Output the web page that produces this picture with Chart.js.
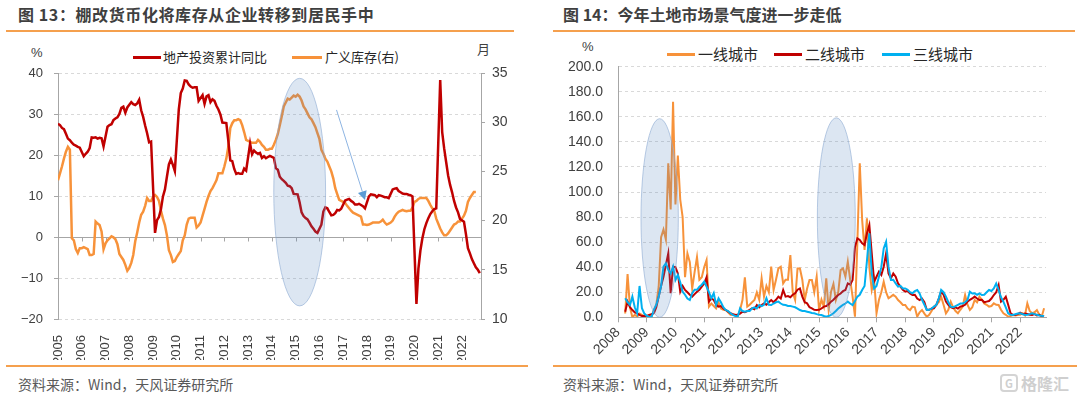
<!DOCTYPE html>
<html><head><meta charset="utf-8">
<script src="https://cdn.jsdelivr.net/npm/chart.js@4.4.1/dist/chart.umd.min.js"></script>
<style>
body{margin:0;background:#fff;}
#wrap{position:relative;width:1080px;height:396px;overflow:hidden;background:#fff;}
.t{position:absolute;white-space:nowrap;font-family:"Noto Sans CJK SC","Liberation Sans",sans-serif;}
.title{font-weight:bold;font-size:16px;line-height:18px;color:#3f3f3f;}
.rule{position:absolute;height:2px;background:#F5A04E;}
.src{font-size:14px;line-height:16px;color:#595959;}
.leg{font-size:13px;line-height:14px;color:#262626;}
.leg2{font-size:15px;line-height:16px;color:#262626;}
.sw{position:absolute;height:3px;}
.unit{font-family:"Liberation Sans","Noto Sans CJK SC",sans-serif;font-size:13px;line-height:14px;color:#404040;}
canvas{position:absolute;}
</style></head>
<body>
<div id="wrap">
  <div class="t title" style="left:18px;top:5px;letter-spacing:0.6px;">图 13：棚改货币化将库存从企业转移到居民手中</div>
  <div class="rule" style="left:6px;top:30px;width:508px;"></div>
  <div class="t title" style="left:563px;top:5px;">图 14：今年土地市场景气度进一步走低</div>
  <div class="rule" style="left:553px;top:30px;width:522px;"></div>

  <div class="t unit" style="left:31px;top:46px;">%</div>
  <div class="t unit" style="left:477px;top:43px;">月</div>
  <div class="sw" style="left:133px;top:56px;width:28px;background:#C00000;"></div>
  <div class="t leg" style="left:163px;top:50px;">地产投资累计同比</div>
  <div class="sw" style="left:292px;top:56px;width:30px;background:#F7923A;"></div>
  <div class="t leg" style="left:325px;top:50px;">广义库存(右)</div>

  <div class="t unit" style="left:582px;top:40px;">%</div>
  <div class="sw" style="left:667px;top:53px;width:28px;background:#F7923A;"></div>
  <div class="t leg2" style="left:698px;top:46px;">一线城市</div>
  <div class="sw" style="left:774px;top:53px;width:28px;background:#C00000;"></div>
  <div class="t leg2" style="left:805px;top:46px;">二线城市</div>
  <div class="sw" style="left:882px;top:53px;width:28px;background:#00B0F0;"></div>
  <div class="t leg2" style="left:913px;top:46px;">三线城市</div>

  <canvas id="c1" width="530" height="320" style="left:0px;top:40px;"></canvas>
  <canvas id="c2" width="530" height="320" style="left:540px;top:40px;"></canvas>

  <div class="rule" style="left:6px;top:365px;width:522px;"></div>
  <div class="rule" style="left:553px;top:365px;width:524px;"></div>
  <div class="t src" style="left:18px;top:376px;">资料来源：Wind，天风证券研究所</div>
  <div class="t src" style="left:563px;top:376px;">资料来源：Wind，天风证券研究所</div>
  <div class="t" style="left:1000px;top:374px;font-size:16px;line-height:18px;color:#cfcfcf;font-weight:bold;"><span style="display:inline-block;border:2px solid #d4d4d4;border-radius:4px;width:14px;height:14px;line-height:14px;text-align:center;font-size:11px;margin-right:3px;vertical-align:top;">G</span>格隆汇</div>
</div>
<script>
// ---------- Figure 13 data ----------
const leftYears = [2005,2006,2007,2008,2009,2010,2011,2012,2013,2014,2015,2016,2017,2018,2019,2020,2021,2022];
const investStart = [2005, 1];   // monthly, 地产投资累计同比 (%)
const invest = [
  27.6,27.3,26.6,26.3,25.2,24.0,23.6,23.0,22.5,22.3,22.0,21.8,
  null,19.7,20.3,20.8,21.7,24.3,24.2,24.3,24.0,24.2,24.1,22.1,
  null,26.9,27.3,27.5,28.5,28.9,29.2,30.0,31.5,31.8,30.3,31.6,
  null,32.9,32.4,32.2,32.6,33.5,30.9,29.3,27.2,25.3,23.1,23.3,
  null,1.0,4.1,4.9,6.8,9.9,11.6,14.7,17.7,18.9,17.6,16.1,
  null,31.1,35.1,36.2,38.2,38.1,37.2,36.7,36.4,36.5,36.5,33.2,
  null,34.6,32.5,34.3,34.6,32.9,33.6,33.2,32.0,31.1,29.9,27.9,
  null,27.8,23.5,18.7,18.5,16.6,15.4,15.6,15.4,15.4,16.7,16.2,
  null,22.8,20.2,21.1,20.6,20.3,20.5,19.3,19.7,19.2,19.5,19.8,
  null,19.3,16.8,16.4,14.7,14.1,13.7,13.2,12.5,12.4,11.9,10.5,
  null,10.4,8.5,6.0,5.1,4.6,4.3,3.5,2.6,2.0,1.3,1.0,
  null,3.0,6.2,7.2,7.0,6.1,5.3,5.4,5.8,6.6,6.5,6.9,
  null,8.9,9.1,9.3,8.8,8.5,7.9,7.9,8.1,7.8,7.5,7.0,
  null,9.9,10.4,10.3,10.2,9.7,10.2,10.1,9.9,9.7,9.7,9.5,
  null,11.6,11.8,11.9,11.2,10.9,10.6,10.5,10.5,10.3,10.2,9.9,
  null,-16.3,-7.7,-3.3,-0.3,1.9,3.4,4.6,5.6,6.3,6.8,7.0,
  null,38.3,25.6,21.6,18.3,15.0,12.7,10.9,8.8,7.2,6.0,4.4,
  null,3.7,0.7,-2.7,-4.0,-5.4,-6.4,-7.4,-8.0,-8.8
];
const stockStart = [2005, 1];    // monthly, 广义库存 (月, right axis)
const stock = [
  24.1,24.8,25.5,26.3,27.0,27.5,27.2,18.2,18.0,17.1,16.7,17.2,
  17.2,17.3,17.2,17.1,16.5,16.5,16.6,19.9,19.7,19.55,18.9,17.1,
  17.7,18.0,18.2,18.4,18.3,18.1,17.6,16.6,16.3,16.0,15.5,14.9,
  15.2,15.7,16.5,17.9,18.8,19.8,20.6,20.9,21.5,22.3,22.0,22.0,
  22.4,22.6,22.4,22.0,21.0,20.2,19.55,18.5,17.0,16.5,15.8,15.9,
  16.3,16.6,16.9,18.0,18.5,19.6,20.2,20.3,20.3,20.3,19.3,19.5,
  19.8,20.5,21.2,21.9,22.5,23.0,23.3,23.7,24.1,24.8,24.8,24.8,
  25.5,26.3,27.5,29.4,29.9,30.2,30.2,30.3,30.2,29.7,29.0,28.2,
  28.1,28.0,27.9,27.9,27.9,28.2,28.0,27.7,27.5,27.2,27.2,27.3,
  27.3,27.7,28.2,28.8,29.7,30.6,31.6,32.0,32.4,32.3,32.5,32.7,
  32.6,32.8,32.6,32.2,31.6,31.3,30.9,30.5,30.3,29.9,29.5,28.9,
  28.3,27.2,26.8,26.3,26.0,25.5,25.0,24.3,23.3,22.7,22.1,22.0,
  21.9,21.8,21.5,21.25,21.0,20.8,20.7,20.6,20.5,20.4,19.6,19.6,
  19.55,19.6,19.7,19.8,19.8,19.8,19.8,19.9,20.1,19.8,19.6,19.7,
  19.8,20.0,20.4,20.7,20.9,21.0,21.1,21.0,20.95,21.0,21.0,21.3,
  21.9,22.0,22.2,22.3,22.3,22.3,22.3,22.0,21.6,21.25,21.0,20.2,
  19.7,19.2,18.8,18.5,18.5,18.7,19.0,19.3,19.6,19.7,19.9,19.9,
  20.2,20.5,21.0,21.9,22.3,22.6,22.9,22.9
];
// highlight shapes (data coordinates): [xMin, xMax, yMin, yMax]
const leftEllipses = [[2014.08, 2016.26, -16.8, 38.7]];
// arrow (data coordinates): [x1, y1, x2, y2]
const leftArrows = [[2016.72, 31.0, 2017.92, 9.0]];

// ---------- Figure 14 data ----------
const rightYears = [2008,2009,2010,2011,2012,2013,2014,2015,2016,2017,2018,2019,2020,2021,2022];
const landStart = [2008, 4];     // monthly, 土地溢价率 (%)
const tier1 = [
  3,34.5,8,0,2,0.5,3,2,1,
  1,0.5,1,5.8,10,24.4,64,70,62,123,86,172,
  90,129,94,80,32,51,44,23,36,48,30,32,
  40,45.7,8.5,11,9,7,12,7,6,5.8,4,2,
  1.8,2,1,5.8,13.8,31.9,8.5,10,12,13.8,20,14,
  31.1,16.5,25,20,40.4,21.8,30,39,40.4,27,30,30,
  49.7,20,13.8,39,39,30,13.8,23,29.8,29.8,20,32.4,
  5.8,14.1,8.5,31.1,5.8,20.4,26.6,13.8,20,37.7,39,32.4,
  44.4,29.8,16.5,0.5,60,123,77.6,53.7,79,40,21.8,29.8,
  3.2,13.8,20,28.4,20,15.2,16.5,18,16.5,13.8,12,9.8,
  9.8,7,5.8,8.5,8,0.5,4,5.8,3,0.5,2,5,
  8.5,10,12,16.5,10,3.2,6,12.5,8,5,3.2,6,
  8.5,17.8,10,5.8,8,13.8,12,16.5,14,11.1,10,8.5,
  9,11.1,10,9.8,6,3.2,2,0.5,1,1.8,1.5,1.8,
  2,3.2,1.5,11.1,5,3.2,4,5.8,2,0.5,7.2
];
const tier2 = [
  4.5,12.5,8,5.8,4,3.2,2,1,1,
  1,1.8,2.5,3.2,8,16.5,25,32.4,41.7,51,19.2,40.4,
  40,35,20.4,25,21.8,20,18,16.5,18.5,20.4,22,24.5,
  27,31.9,12.5,15,13.8,10,8.5,9,7,5.8,4.5,3.2,
  2.5,1.8,2,3,4.5,4,5,6,7.2,6.5,9.8,8,
  9.8,11.1,10,12,13.8,12,14,16.5,15,21.8,16.5,17,
  16,18,19.2,22,23,16.5,12,11.1,8,7.2,6,5.8,
  6,7,8.5,9,10.5,12.5,14,16,17.8,19,21,21.8,
  27,26,29.8,56,63,61.7,59,57.7,67,73.6,51,28.4,
  32.4,36.4,33.8,40.4,51,35,31.1,35,32.4,27,24.5,22,
  20.4,21,19,17.8,18,15,13.8,15,12,5.8,6,7,
  7.2,10,15,20.4,18,12.5,10,8,7.2,8,7,8.5,
  9,10,12.5,14,15,16.5,15,13.8,14,12,12.5,13,
  15,17.8,20,25.7,12.5,14,16.5,10,3.2,2,1.8,2.5,
  3.7,2.5,3,2.6,2,1.8,2.5,1.5,2,1,0.8
];
const tier3 = [
  15.2,12,9.8,16.5,8,3.2,25,7.2,3,
  1.2,0.5,0,6,10,16.5,25,40.4,43,38,35,40.4,
  29.8,33.8,28,20.4,18,15,13.8,19.2,22,22,24.5,26,
  28.4,24.5,20,15.2,19.2,9.8,15.2,12,8,5.8,5,3.2,
  2,1,0.5,7.2,5,4.5,5,5,7.2,8,7,9.8,
  9,10,15.2,10,9.8,11,12,12.5,11,10,9.8,9,
  9,8.5,8,7,5.8,5,5,4.5,4,3.5,3.2,2.5,
  2,1.8,1,0.5,1,2,3.2,5,7,8.5,10,11,
  12.5,11,9.8,13,16.5,18,21.8,25,45,67,35,23,
  25,32.3,40,55,60.3,40.4,29.8,30,27,24.5,25,23,
  23,22,20,19.2,21,21.8,19,14,10,5.8,6,7,
  8.5,10,15,21.8,20,16.5,12,8.5,8,9,10,11,
  11,12,13.8,20.4,19,19.2,18,19,17.8,18,20,21.8,
  21,23,27,22,16,12.5,8,3.2,2,1.8,2.5,3,
  3.2,2.5,1.8,2,2.5,3.2,2.5,2,1.5,1.2,1
];
const rightEllipses = [[2008.8, 2010.1, 0, 158.5], [2014.94, 2016.26, 0, 159.2]];

// ---------- helpers ----------
function toPoints(start, arr) {
  return arr.map((v, i) => ({ x: start[0] + (start[1] - 1 + i) / 12, y: v }));
}
const GRID = '#d9d9d9', AXIS = '#a6a6a6', TXT = '#404040';
const FONT = '"Liberation Sans","Noto Sans CJK SC",sans-serif';
Chart.defaults.font.family = FONT;
Chart.defaults.color = TXT;

const zeroAxis = {
  id: 'zeroAxis',
  beforeDatasetsDraw(chart, args, opts) {
    if (!opts.years) return;
    const { ctx, scales: { x, y } } = chart;
    const py = Math.round(y.getPixelForValue(0)) + 0.5;
    ctx.save();
    ctx.strokeStyle = AXIS; ctx.lineWidth = 1;
    ctx.beginPath();
    ctx.moveTo(x.left, py); ctx.lineTo(x.right, py);
    opts.years.forEach(v => {
      const px = Math.round(x.getPixelForValue(v)) + 0.5;
      ctx.moveTo(px, py); ctx.lineTo(px, py + 4);
    });
    ctx.stroke();
    ctx.restore();
  }
};
const shapes = {
  id: 'shapes',
  afterDatasetsDraw(chart, args, opts) {
    const { ctx, scales: { x, y } } = chart;
    ctx.save();
    (opts.ellipses || []).forEach(e => {
      const x1 = x.getPixelForValue(e[0]), x2 = x.getPixelForValue(e[1]);
      const y1 = y.getPixelForValue(e[3]), y2 = y.getPixelForValue(e[2]);
      ctx.beginPath();
      ctx.ellipse((x1 + x2) / 2, (y1 + y2) / 2, (x2 - x1) / 2, (y2 - y1) / 2, 0, 0, Math.PI * 2);
      ctx.fillStyle = 'rgba(79,129,189,0.2)';
      ctx.fill();
      ctx.strokeStyle = 'rgba(140,170,210,0.6)';
      ctx.lineWidth = 1;
      ctx.stroke();
    });
    (opts.arrows || []).forEach(a => {
      const px1 = x.getPixelForValue(a[0]), py1 = y.getPixelForValue(a[1]);
      const px2 = x.getPixelForValue(a[2]), py2 = y.getPixelForValue(a[3]);
      const ang = Math.atan2(py2 - py1, px2 - px1);
      const L = 9, W = 4.5;
      const bx = px2 - L * Math.cos(ang), by = py2 - L * Math.sin(ang);
      ctx.beginPath();
      ctx.moveTo(px1, py1); ctx.lineTo(bx, by);
      ctx.strokeStyle = '#8DB4E2'; ctx.lineWidth = 1; ctx.stroke();
      ctx.beginPath();
      ctx.moveTo(px2, py2);
      ctx.lineTo(bx + W * Math.sin(ang), by - W * Math.cos(ang));
      ctx.lineTo(bx - W * Math.sin(ang), by + W * Math.cos(ang));
      ctx.closePath();
      ctx.fillStyle = '#5B9BD5'; ctx.fill();
    });
    ctx.restore();
  }
};
const minus = v => String(v).replace('-', '\u2212');

// ---------- Chart 1 ----------
new Chart(document.getElementById('c1'), {
  type: 'line',
  data: {
    datasets: [
      { label: '地产投资累计同比', data: toPoints(investStart, invest), borderColor: '#C00000', borderWidth: 2.5,
        pointRadius: 0, spanGaps: true, yAxisID: 'y', order: 1 },
      { label: '广义库存(右)', data: toPoints(stockStart, stock), borderColor: '#F7923A', borderWidth: 2.5,
        pointRadius: 0, spanGaps: true, yAxisID: 'y1', order: 2 }
    ]
  },
  options: {
    responsive: false, animation: false,
    layout: { padding: { top: 33, left: 0, right: 0, bottom: 0 } },
    plugins: { legend: { display: false }, tooltip: { enabled: false },
      zeroAxis: { years: leftYears },
      shapes: { ellipses: leftEllipses, arrows: leftArrows } },
    scales: {
      x: { type: 'linear', min: 2005, max: 2022.8,
        afterBuildTicks: s => { s.ticks = leftYears.map(v => ({ value: v })); },
        afterFit: s => { s.height = 41; },
        grid: { display: false }, border: { display: false },
        ticks: { autoSkip: false, minRotation: 90, maxRotation: 90, padding: 8,
          font: { size: 13, family: '"Liberation Sans Narrow","Liberation Sans",sans-serif' }, color: TXT,
          callback: v => String(v) } },
      y: { position: 'left', min: -20, max: 40,
        afterFit: s => { s.width = 58; },
        ticks: { stepSize: 10, padding: 11, font: { size: 13 }, color: TXT, callback: minus },
        grid: { color: c => (c.tick && c.tick.value === 0) ? 'rgba(0,0,0,0)' : GRID, tickColor: AXIS, tickLength: 4, lineWidth: 1 },
        border: { display: true, color: AXIS, width: 1, dash: [3, 3] } },
      y1: { position: 'right', min: 10, max: 35,
        afterFit: s => { s.width = 49; },
        ticks: { stepSize: 5, padding: 7, font: { size: 14 }, color: TXT },
        grid: { drawOnChartArea: false, color: AXIS, tickLength: 4 },
        border: { display: true, color: AXIS, width: 1 } }
    }
  },
  plugins: [zeroAxis, shapes]
});

// ---------- Chart 2 ----------
new Chart(document.getElementById('c2'), {
  type: 'line',
  data: {
    datasets: [
      { label: '一线城市', data: toPoints(landStart, tier1), borderColor: '#F7923A', borderWidth: 2, pointRadius: 0, order: 3 },
      { label: '二线城市', data: toPoints(landStart, tier2), borderColor: '#C00000', borderWidth: 2, pointRadius: 0, order: 2 },
      { label: '三线城市', data: toPoints(landStart, tier3), borderColor: '#00B0F0', borderWidth: 2, pointRadius: 0, order: 1 }
    ]
  },
  options: {
    responsive: false, animation: false,
    layout: { padding: { top: 26.7, left: 0, right: 24, bottom: 0 } },
    plugins: { legend: { display: false }, tooltip: { enabled: false },
      shapes: { ellipses: rightEllipses } },
    scales: {
      x: { type: 'linear', min: 2008, max: 2022.9,
        afterBuildTicks: s => { s.ticks = rightYears.map(v => ({ value: v })); },
        afterFit: s => { s.height = 42.7; },
        grid: { display: true, drawOnChartArea: false, drawTicks: true, tickLength: 5, color: AXIS },
        border: { display: true, color: AXIS, width: 1 },
        ticks: { autoSkip: false, minRotation: 45, maxRotation: 45, padding: 2, font: { size: 14 }, color: TXT,
          callback: v => String(v) } },
      y: { min: 0, max: 200,
        afterFit: s => { s.width = 78; },
        ticks: { stepSize: 20, padding: 15, font: { size: 14 }, color: TXT, callback: v => Number(v).toFixed(1) },
        grid: { color: c => (c.tick && c.tick.value === 0) ? 'rgba(0,0,0,0)' : GRID, drawTicks: false, lineWidth: 1 },
        border: { display: true, color: AXIS, width: 1, dash: [3, 3] } }
    }
  },
  plugins: [shapes]
});
</script>
</body></html>
